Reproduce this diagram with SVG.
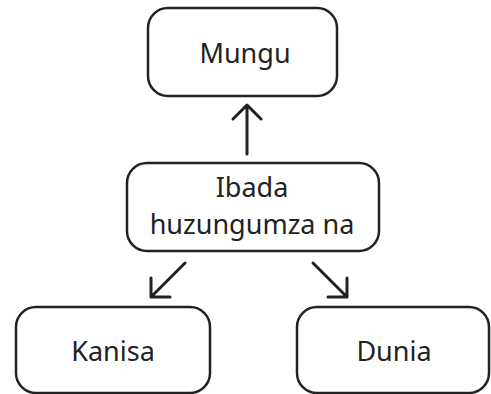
<svg xmlns="http://www.w3.org/2000/svg" width="491" height="394" viewBox="0 0 491 394">
<style>
.box{fill:#fff;stroke:#222;stroke-width:2.5}
.t{font-family:"Noto Sans","Open Sans",sans-serif;font-size:27px;fill:#222;text-anchor:middle}
.c{fill:none;stroke:#222;stroke-width:3;stroke-linecap:round;stroke-linejoin:round}
</style>
<rect width="491" height="394" fill="#fff"/>
<g id="mungu"><rect class="box" x="148" y="8" width="189" height="88" rx="20"/><text class="t" x="245" y="63">Mungu</text></g>
<g id="ibada"><rect class="box" x="127" y="163" width="252" height="88" rx="20"/><text class="t" x="252" y="197">Ibada</text><text class="t" x="252" y="234">huzungumza na</text></g>
<g id="kanisa"><rect class="box" x="16" y="307" width="194" height="86" rx="20"/><text class="t" x="113" y="361">Kanisa</text></g>
<g id="dunia"><rect class="box" x="297" y="307" width="192" height="86" rx="20"/><text class="t" x="394" y="361">Dunia</text></g>
<g id="connectors">
<path class="c" d="M247 154 V105 M233 119 L247 105 L261 119"/>
<path class="c" d="M185 263 L151 297 M151 278 L151 297 L170 297"/>
<path class="c" d="M313 263 L347 297 M347 278 L347 297 L328 297"/>
</g>
</svg>
